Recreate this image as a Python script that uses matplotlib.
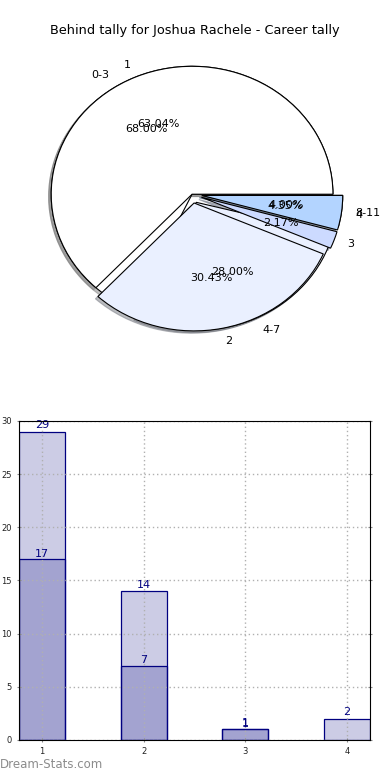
import matplotlib
matplotlib.use('Agg')
import matplotlib.pyplot as plt

# データ
title = 'Behind tally for Joshua Rachele - Career tally'
range_labels = ['0-3', '4-7', '8-11']
range_counts = [17, 7, 1]
tally_labels = ['1', '2', '3', '4']
tally_counts = [29, 14, 1, 2]

bar_x = [1, 2, 3, 4]
bar_total = [29, 14, 1, 2]
bar_x2 = [1, 2, 3]
bar_sub = [17, 7, 1]

fig = plt.figure(figsize=(3.9, 7.8), dpi=100)
fig.text(0.5, 0.9615, title, ha='center', va='center', fontsize=9.3)

# 円グラフ
ax1 = fig.add_axes([0.041, 0.546, 0.903, 0.41])
wp = {'edgecolor': 'black', 'linewidth': 0.8}
sh = {'ox': -0.013, 'oy': -0.013, 'shade': 0.5}
ax1.pie(range_counts, labels=range_labels, autopct='%1.2f%%',
        explode=[0, 0.07, 0.07], shadow=sh,
        colors=['white', '#eaf0ff', '#b3d4ff'], wedgeprops=wp,
        textprops={'fontsize': 8})
ax1.pie(tally_counts, labels=tally_labels, autopct='%1.2f%%',
        explode=[0, 0.07, 0.07, 0.07], shadow=sh,
        colors=['white', '#eaf0ff', '#ccdaff', '#b3d4ff'], wedgeprops=wp,
        textprops={'fontsize': 8})
ax1.set_aspect('auto')
ax1.set_xlim(-1.25, 1.25)
ax1.set_ylim(-1.25, 1.25)

# 棒グラフ
ax2 = fig.add_axes([0.0487, 0.0513, 0.9, 0.409])
ax2.bar(bar_x, bar_total, width=0.45, color='navy', alpha=0.2, edgecolor='none')
ax2.bar(bar_x, bar_total, width=0.45, fill=False, edgecolor='navy', linewidth=0.9)
ax2.bar(bar_x2, bar_sub, width=0.45, color='navy', alpha=0.2, edgecolor='none')
ax2.bar(bar_x2, bar_sub, width=0.45, fill=False, edgecolor='navy', linewidth=0.9)
for x, v in zip(bar_x, bar_total):
    ax2.text(x, v + 0.15, str(v), ha='center', va='bottom', color='navy', fontsize=8)
for x, v in zip(bar_x2, bar_sub):
    ax2.text(x, v + 0.05, str(v), ha='center', va='bottom', color='navy', fontsize=8)

ax2.set_xlim(0.775, 4.225)
ax2.set_ylim(0, 30)
ax2.set_xticks(bar_x)
ax2.set_yticks(range(0, 31, 5))
ax2.tick_params(labelsize=6, length=3, color='#888888', direction='inout',
                right=True, labelcolor='#222222')
ax2.grid(True, linestyle=(0, (1, 2)), color='#b0b0b0', linewidth=1)
ax2.set_axisbelow(False)
for s in ax2.spines.values():
    s.set_zorder(5)

fig.text(0.0, 0.012, 'Dream-Stats.com', color='#8c8c8c', fontsize=8.5,
         ha='left', va='bottom')

plt.savefig('out.png', dpi=100)
